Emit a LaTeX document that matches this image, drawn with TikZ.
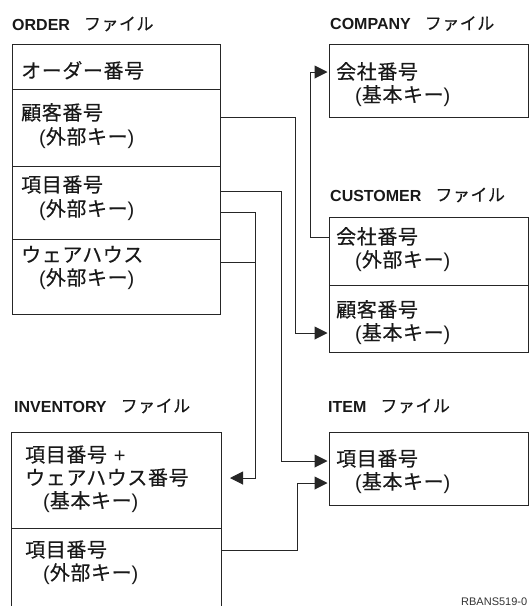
\documentclass[tikz,border=0pt]{standalone}
\usepackage{fontspec}
\setmainfont{Liberation Sans}
\newfontfamily\jp[LetterSpace=3,FakeBold=0.3]{Noto Sans CJK JP}
\usetikzlibrary{arrows.meta,calc}

% Latin brackets and plus inside Japanese entries
\newcommand\lpar{{\normalfont(}}
\newcommand\rpar{{\normalfont)}}
\newcommand\plussign{{\normalfont\hspace{7pt}+}}

\begin{document}
\begin{tikzpicture}[x=1pt,y=-1pt,
  cell/.style={draw=black!85, line width=1pt, rectangle, anchor=north west,
    inner sep=0pt, outer sep=0pt},
  leftcol/.style={cell, minimum width=208pt},
  rightcol/.style={cell, minimum width=199pt},
  entry/.style={anchor=base west, inner sep=0pt, text=black!90,
    font=\jp\fontsize{20}{23}\selectfont},
  title/.style={anchor=base west, inner sep=0pt, text=black!90,
    font=\fontsize{16}{16}\selectfont\bfseries},
  link/.style={draw=black!85, line width=1pt},
  tip/.style={link, -{Triangle[length=13pt,width=13pt]}, shorten >=1.5pt}
]
\useasboundingbox (0,0) rectangle (529,606);
\clip (0,0) rectangle (529,606);

\newcommand\filetag{\hspace{14pt}{\jp\fontsize{17}{17}\selectfont\mdseries ファイル}}

% ---- ORDER file ----
\node[title] (tOrder) at (12,30) {ORDER\filetag};
\node[leftcol, minimum height=45pt]   (oNum)  at (12.7,44.3) {};
\node[leftcol, minimum height=76.7pt] (oCust) at (12.7,89.3) {};
\node[leftcol, minimum height=73pt]   (oItem) at (12.7,166) {};
\node[leftcol, minimum height=75pt]   (oWh)   at (12.7,239) {};
\node[entry] (oNumA)  at (21,78)  {オーダー番号};
\node[entry] (oCustA) at (21,120) {顧客番号};
\node[entry] (oCustB) at (39,144) {\lpar 外部キー\rpar};
\node[entry] (oItemA) at (21,192) {項目番号};
\node[entry] (oItemB) at (39,216) {\lpar 外部キー\rpar};
\node[entry] (oWhA)   at (21,262) {ウェアハウス};
\node[entry] (oWhB)   at (39,285) {\lpar 外部キー\rpar};

% ---- COMPANY file ----
\node[title] (tComp) at (330,29.5) {COMPANY\filetag};
\node[rightcol, minimum height=73pt] (cNum) at (329,44) {};
\node[entry] (cNumA) at (336,79)  {会社番号};
\node[entry] (cNumB) at (355,102) {\lpar 基本キー\rpar};

% ---- CUSTOMER file ----
\node[title] (tCust) at (330,201) {CUSTOMER\filetag};
\node[rightcol, minimum height=68pt] (uComp) at (329,217) {};
\node[rightcol, minimum height=67pt] (uCust) at (329,285) {};
\node[entry] (uCompA) at (336,244) {会社番号};
\node[entry] (uCompB) at (355,267) {\lpar 外部キー\rpar};
\node[entry] (uCustA) at (336,317) {顧客番号};
\node[entry] (uCustB) at (355,340) {\lpar 基本キー\rpar};

% ---- INVENTORY file ----
\node[title] (tInv) at (14,412) {INVENTORY\filetag};
\node[cell, minimum width=210pt, minimum height=96pt]  (iKey)  at (11,432) {};
\node[cell, minimum width=210pt, minimum height=100pt] (iItem) at (11,528) {};
\node[entry] (iKeyA)  at (25,462) {項目番号\plussign};
\node[entry] (iKeyB)  at (25,485) {ウェアハウス番号};
\node[entry] (iKeyC)  at (43,508) {\lpar 基本キー\rpar};
\node[entry] (iItemA) at (25,557) {項目番号};
\node[entry] (iItemB) at (43,580) {\lpar 外部キー\rpar};

% ---- ITEM file ----
\node[title] (tItem) at (328,412) {ITEM\filetag};
\node[rightcol, minimum height=73pt] (tKey) at (329,432) {};
\node[entry] (tKeyA) at (336,466) {項目番号};
\node[entry] (tKeyB) at (355,489) {\lpar 基本キー\rpar};

% ---- figure id ----
\node[anchor=base west, inner sep=0pt, font=\fontsize{11}{11}\selectfont, black!80]
  (figid) at (461,605) {RBANS519-0};

% ---- key references ----
% customer number -> CUSTOMER primary key
\draw[tip] ($(oCust.north east)+(0,27.7)$) -| ($(uCust.north west)+(-34,48)$)
  -- ($(uCust.north west)+(0,48)$);
% item number -> ITEM primary key
\draw[tip] ($(oItem.north east)+(0,25)$) -| ($(tKey.north west)+(-48,29)$)
  -- ($(tKey.north west)+(0,29)$);
% item number + warehouse -> INVENTORY primary key
\draw[tip, shorten >=9pt] ($(oItem.north east)+(0,46)$) -| ($(iKey.north east)+(34,46)$)
  -- ($(iKey.north east)+(0,46)$);
\coordinate (whJoin) at ($(oWh.north east)+(34,23)$);
\draw[link] ($(oWh.north east)+(0,23)$) -- (whJoin);
% company number -> COMPANY primary key
\draw[tip] ($(uComp.north west)+(0,20)$) -| ($(cNum.north west)+(-19,28)$)
  -- ($(cNum.north west)+(0,28)$);
% inventory item number -> ITEM primary key
\draw[tip] ($(iItem.north east)+(0,22)$) -| ($(tKey.north west)+(-32,51)$)
  -- ($(tKey.north west)+(0,51)$);
\end{tikzpicture}
\end{document}
